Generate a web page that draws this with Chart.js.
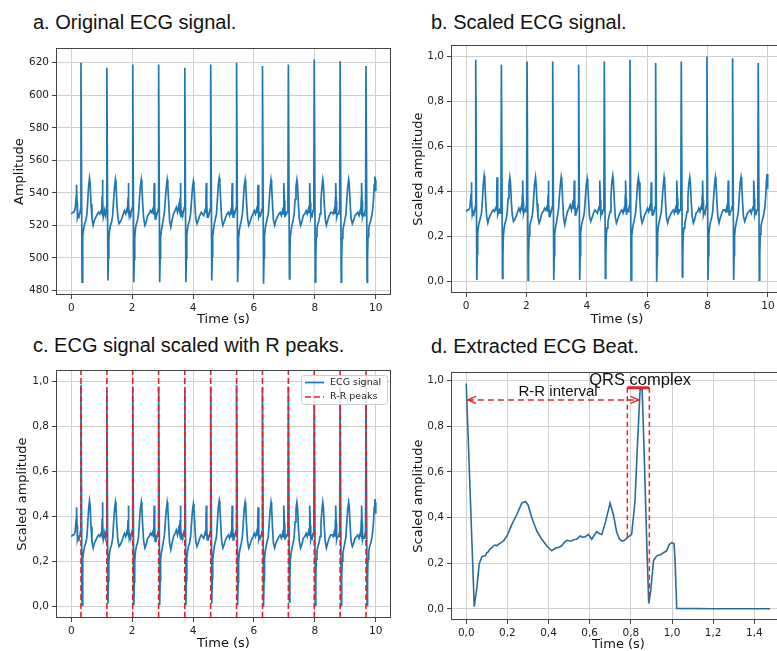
<!DOCTYPE html>
<html>
<head>
<meta charset="utf-8">
<title>ECG signal figure</title>
<script src="https://cdn.jsdelivr.net/npm/chart.js@4.4.1/dist/chart.umd.min.js"></script>
<style>
    html, body { margin: 0; padding: 0; background: #fff; }
    body { width: 777px; height: 651px; overflow: hidden; position: relative; }
    canvas { position: absolute; }
    .panel-title {
        position: absolute;
        font-family: 'Liberation Sans', Arial, sans-serif;
        font-size: 20px;
        line-height: 1;
        color: #111;
        white-space: nowrap;
    }
</style>
</head>
<body>
<div class="panel-title" style="left:33px;top:12px">a. Original ECG signal.</div>
<div class="panel-title" style="left:431px;top:12px">b. Scaled ECG signal.</div>
<div class="panel-title" style="left:33px;top:335px">c. ECG signal scaled with R peaks.</div>
<div class="panel-title" style="left:431px;top:336px">d. Extracted ECG Beat.</div>

<canvas id="chartA"></canvas>
<canvas id="chartB"></canvas>
<canvas id="chartC"></canvas>
<canvas id="chartD"></canvas>

<script>
// ---- data ----

// tick labels
const timeTicks = [0, 2, 4, 6, 8, 10];
const amplitudeTicks = [480, 500, 520, 540, 560, 580, 600, 620];
const scaledTicks = [0, 0.2, 0.4, 0.6, 0.8, 1.0];
const beatTimeTicks = [0, 0.2, 0.4, 0.6, 0.8, 1.0, 1.2, 1.4];

// axis limits
const timeRange = [-0.5, 10.5];
const amplitudeRange = [477.1, 628.9];
const scaledRange = [-0.05, 1.05];
const beatTimeRange = [-0.074, 1.554];
const beatAmpRange = [-0.049, 1.036];

// original ECG, [time (s), amplitude]
const ecgSamples = [
    [0, 527], [0.02, 527], [0.05, 528], [0.08, 528], [0.11, 529], [0.13, 530],
    // beat 1
    [0.15, 530], [0.165, 538], [0.175, 545], [0.19, 534], [0.205, 525], [0.23, 527], [0.255, 526], [0.28, 527], [0.305, 530], [0.32, 620],
    [0.355, 485], [0.37, 501], [0.385, 514], [0.41, 518], [0.44, 521], [0.475, 523], [0.51, 526], [0.54, 534], [0.57, 544], [0.60, 549],
    [0.62, 546], [0.65, 533], [0.68, 524], [0.72, 520], [0.76, 523], [0.81, 525], [0.86, 527], [0.90, 528], [0.94, 527], [0.98, 529],
    // beat 2
    [1.00, 528], [1.015, 538], [1.025, 548], [1.04, 535], [1.055, 525], [1.08, 527], [1.105, 528], [1.13, 526], [1.155, 531], [1.17, 617],
    [1.205, 486], [1.22, 500], [1.235, 512], [1.26, 517], [1.29, 520], [1.325, 522], [1.36, 526], [1.39, 535], [1.42, 543], [1.45, 548],
    [1.47, 545], [1.50, 533], [1.53, 525], [1.57, 521], [1.61, 522], [1.66, 524], [1.71, 527], [1.75, 529], [1.79, 527], [1.83, 530],
    // beat 3
    [1.85, 529], [1.865, 537], [1.875, 546], [1.89, 533], [1.905, 526], [1.93, 528], [1.955, 527], [1.98, 529], [2.005, 531], [2.02, 619],
    [2.055, 485], [2.07, 499], [2.085, 512], [2.11, 518], [2.14, 521], [2.175, 523], [2.21, 527], [2.24, 536], [2.27, 544], [2.30, 548],
    [2.32, 544], [2.35, 532], [2.38, 524], [2.42, 520], [2.46, 522], [2.51, 526], [2.56, 527], [2.60, 529], [2.64, 528], [2.68, 530],
    // beat 4
    [2.70, 527], [2.715, 537], [2.725, 546], [2.74, 534], [2.755, 524], [2.78, 527], [2.805, 526], [2.83, 528], [2.855, 530], [2.87, 619],
    [2.905, 485], [2.92, 500], [2.935, 513], [2.96, 517], [2.99, 520], [3.025, 524], [3.06, 528], [3.09, 536], [3.12, 543], [3.15, 548],
    [3.17, 545], [3.20, 534], [3.23, 523], [3.27, 519], [3.31, 523], [3.36, 527], [3.41, 529], [3.45, 531], [3.49, 528], [3.53, 532],
    // beat 5
    [3.56, 529], [3.575, 537], [3.585, 546], [3.60, 535], [3.615, 525], [3.64, 528], [3.665, 527], [3.69, 529], [3.715, 531], [3.73, 617],
    [3.765, 485], [3.78, 500], [3.795, 514], [3.82, 518], [3.85, 521], [3.885, 523], [3.92, 527], [3.95, 535], [3.98, 543], [4.01, 547],
    [4.03, 544], [4.06, 533], [4.09, 524], [4.13, 521], [4.17, 523], [4.22, 526], [4.27, 528], [4.31, 527], [4.35, 526], [4.39, 529],
    // beat 6
    [4.41, 528], [4.425, 537], [4.435, 546], [4.45, 534], [4.465, 525], [4.49, 527], [4.515, 526], [4.54, 528], [4.565, 530], [4.58, 619],
    [4.615, 486], [4.63, 501], [4.645, 513], [4.67, 517], [4.70, 521], [4.735, 524], [4.77, 527], [4.80, 536], [4.83, 545], [4.86, 549],
    [4.88, 546], [4.91, 534], [4.94, 524], [4.98, 520], [5.02, 522], [5.07, 525], [5.12, 527], [5.16, 528], [5.20, 526], [5.24, 529],
    // beat 7
    [5.26, 527], [5.275, 537], [5.285, 546], [5.30, 535], [5.315, 525], [5.34, 528], [5.365, 527], [5.39, 529], [5.415, 531], [5.43, 620],
    [5.465, 485], [5.48, 499], [5.495, 512], [5.52, 517], [5.55, 520], [5.585, 523], [5.62, 527], [5.65, 535], [5.68, 544], [5.71, 548],
    [5.73, 545], [5.76, 533], [5.79, 524], [5.83, 520], [5.87, 522], [5.92, 525], [5.97, 527], [6.01, 529], [6.05, 527], [6.09, 530],
    // beat 8
    [6.11, 528], [6.125, 537], [6.135, 545], [6.15, 534], [6.165, 525], [6.19, 527], [6.215, 526], [6.24, 528], [6.265, 530], [6.28, 618],
    [6.315, 484], [6.33, 500], [6.345, 513], [6.37, 518], [6.40, 521], [6.435, 524], [6.47, 527], [6.50, 535], [6.53, 543], [6.56, 548],
    [6.58, 545], [6.61, 532], [6.64, 523], [6.68, 520], [6.72, 523], [6.77, 525], [6.82, 527], [6.86, 528], [6.90, 526], [6.94, 529],
    // beat 9
    [6.96, 527], [6.975, 537], [6.985, 546], [7.00, 535], [7.015, 525], [7.04, 528], [7.065, 527], [7.09, 528], [7.115, 531], [7.13, 619],
    [7.165, 487], [7.18, 501], [7.195, 513], [7.22, 517], [7.25, 520], [7.285, 523], [7.32, 527], [7.35, 536], [7.38, 544], [7.41, 548],
    [7.43, 545], [7.46, 533], [7.49, 524], [7.53, 520], [7.57, 522], [7.62, 526], [7.67, 527], [7.71, 529], [7.75, 527], [7.79, 530],
    // beat 10
    [7.81, 528], [7.825, 537], [7.835, 546], [7.85, 534], [7.865, 525], [7.89, 527], [7.915, 526], [7.94, 529], [7.965, 531], [7.98, 622],
    [8.015, 485], [8.03, 500], [8.045, 513], [8.07, 518], [8.10, 521], [8.135, 523], [8.17, 527], [8.20, 535], [8.23, 543], [8.26, 548],
    [8.28, 545], [8.31, 533], [8.34, 524], [8.38, 520], [8.42, 523], [8.47, 526], [8.52, 528], [8.56, 528], [8.60, 527], [8.64, 530],
    // beat 11
    [8.66, 527], [8.675, 537], [8.685, 546], [8.70, 535], [8.715, 525], [8.74, 527], [8.765, 527], [8.79, 528], [8.815, 530], [8.83, 621],
    [8.865, 485], [8.88, 500], [8.895, 512], [8.92, 517], [8.95, 520], [8.985, 523], [9.02, 527], [9.05, 536], [9.08, 544], [9.11, 548],
    [9.13, 545], [9.16, 533], [9.19, 524], [9.23, 521], [9.27, 523], [9.32, 526], [9.37, 527], [9.41, 528], [9.45, 526], [9.49, 529],
    // beat 12
    [9.51, 528], [9.525, 537], [9.535, 546], [9.55, 535], [9.565, 525], [9.59, 527], [9.615, 526], [9.64, 528], [9.665, 530], [9.68, 618],
    [9.715, 485], [9.73, 500], [9.745, 513], [9.77, 518], [9.80, 521], [9.835, 523], [9.87, 526], [9.90, 530], [9.93, 537], [9.95, 545],
    [9.97, 550], [9.985, 548], [10.0, 541]
];

// detected R peaks (s)
const rPeakTimes = [0.32, 1.17, 2.02, 2.87, 3.73, 4.58, 5.43, 6.28, 7.13, 7.98, 8.83, 9.68];

// one extracted beat, [time (s), scaled amplitude]
const beatSamples = [
    [0, 0.987], [0.039, 0.009], [0.052, 0.095], [0.063, 0.196], [0.076, 0.228], [0.092, 0.232], [0.1, 0.245], [0.108, 0.25],
    [0.115, 0.262], [0.125, 0.268], [0.133, 0.276], [0.141, 0.279], [0.149, 0.276], [0.157, 0.283], [0.17, 0.29], [0.181, 0.297],
    [0.198, 0.319], [0.222, 0.37], [0.246, 0.413], [0.27, 0.463], [0.287, 0.47], [0.3, 0.456], [0.319, 0.398], [0.343, 0.341],
    [0.367, 0.305], [0.391, 0.276], [0.415, 0.254], [0.428, 0.262], [0.44, 0.268], [0.452, 0.27], [0.464, 0.276], [0.476, 0.29],
    [0.489, 0.3], [0.5, 0.298], [0.513, 0.297], [0.525, 0.304], [0.537, 0.305], [0.554, 0.319], [0.566, 0.314], [0.578, 0.315],
    [0.594, 0.326], [0.61, 0.305], [0.622, 0.322], [0.634, 0.338], [0.646, 0.33], [0.659, 0.326], [0.678, 0.384], [0.699, 0.463],
    [0.715, 0.413], [0.731, 0.336], [0.745, 0.305], [0.756, 0.297], [0.77, 0.3], [0.783, 0.312], [0.804, 0.326], [0.82, 0.47],
    [0.832, 0.716], [0.845, 0.961], [0.855, 0.961], [0.866, 0.644], [0.878, 0.268], [0.887, 0.023], [0.897, 0.081], [0.91, 0.211],
    [0.926, 0.232], [0.94, 0.236], [0.95, 0.24], [0.962, 0.248], [0.974, 0.254], [0.987, 0.283], [0.999, 0.29], [1.01, 0.285],
    [1.015, 0.21], [1.023, 0.002], [1.2, 0.0], [1.476, 0.0]
];

// annotations of panel d (data units)
const rrArrowEnds = [0.008, 0.838];
const rrArrowLevel = 0.915;
const rrLabel = { text: 'R-R interval', x: 0.254, y: 0.934 };
const qrsEdges = [0.783, 0.89];
const qrsBarLevel = 0.968;
const qrsEdgeBottoms = [0.31, 0.04];
const qrsLabel = { text: 'QRS complex', x: 0.598, y: 0.98 };

// ---- styles ----
const lineBlue = '#1f77b4';
const beatBlue = '#2a6c99';
const red = '#e02328';
const tickFont = { family: 'DejaVu Sans', size: 10.5 };
const axisTitleFont = { family: 'DejaVu Sans', size: 13 };

// draws the full box round the plot area, like matplotlib spines
const framePlugin = {
    id: 'frame',
    afterDatasetsDraw(chart) {
        const { ctx, chartArea: a } = chart;
        ctx.save();
        ctx.strokeStyle = '#444';
        ctx.lineWidth = 1;
        ctx.strokeRect(Math.round(a.left) + 0.5, Math.round(a.top) + 0.5,
            Math.round(a.right - a.left) - 1, Math.round(a.bottom - a.top) - 1);
        ctx.restore();
    }
};

// legend drawn inside the plot area (panel c)
const innerLegendPlugin = {
    id: 'innerLegend',
    afterDraw(chart) {
        const { ctx, chartArea: a } = chart;
        const w = 86, h = 29;
        const x = Math.round(a.right) - 4 - w;
        const y = Math.round(a.top) + 5;
        ctx.save();
        ctx.beginPath();
        ctx.roundRect(x + 0.5, y + 0.5, w, h, 3);
        ctx.fillStyle = 'rgba(255,255,255,0.85)';
        ctx.fill();
        ctx.strokeStyle = '#cccccc';
        ctx.lineWidth = 1;
        ctx.stroke();
        ctx.font = '9.5px "DejaVu Sans"';
        ctx.textBaseline = 'middle';
        ctx.textAlign = 'left';
        chart.data.datasets.forEach((ds, i) => {
            const rowY = y + 7.5 + i * 14.5;
            ctx.beginPath();
            ctx.setLineDash(ds.borderDash || []);
            ctx.strokeStyle = ds.borderColor;
            ctx.lineWidth = ds.borderWidth;
            ctx.moveTo(x + 4, rowY);
            ctx.lineTo(x + 23, rowY);
            ctx.stroke();
            ctx.setLineDash([]);
            ctx.fillStyle = '#222';
            ctx.fillText(ds.label, x + 29, rowY);
        });
        ctx.restore();
    }
};

// arrow heads and labels of panel d
const beatNotesPlugin = {
    id: 'beatNotes',
    afterDatasetsDraw(chart) {
        const { ctx } = chart;
        const xs = chart.scales.x, ys = chart.scales.y;
        const y = ys.getPixelForValue(rrArrowLevel);
        const xl = xs.getPixelForValue(rrArrowEnds[0]);
        const xr = xs.getPixelForValue(rrArrowEnds[1]);
        ctx.save();
        ctx.strokeStyle = red;
        ctx.lineWidth = 1.5;
        ctx.setLineDash([]);
        ctx.beginPath();
        ctx.moveTo(xl + 8, y - 3.5); ctx.lineTo(xl, y); ctx.lineTo(xl + 8, y + 3.5);
        ctx.moveTo(xr - 8, y - 3.5); ctx.lineTo(xr, y); ctx.lineTo(xr - 8, y + 3.5);
        ctx.stroke();

        ctx.fillStyle = '#111';
        ctx.textAlign = 'left';
        ctx.textBaseline = 'alphabetic';
        ctx.font = '15px "Liberation Sans", Arial, sans-serif';
        ctx.fillText(rrLabel.text, xs.getPixelForValue(rrLabel.x), ys.getPixelForValue(rrLabel.y));
        ctx.font = '16.5px "Liberation Sans", Arial, sans-serif';
        ctx.fillText(qrsLabel.text, xs.getPixelForValue(qrsLabel.x), ys.getPixelForValue(qrsLabel.y));
        ctx.restore();
    }
};

// one axis: fixed ticks, fixed thickness
const makeAxis = (range, tickValues, label, format, thickness, horizontal) => ({
    type: 'linear',
    min: range[0],
    max: range[1],
    afterBuildTicks: (scale) => { scale.ticks = tickValues.map(v => ({ value: v })); },
    afterFit: (scale) => {
        if (horizontal) { scale.height = thickness; } else { scale.width = thickness; }
    },
    ticks: { font: tickFont, color: '#222', padding: 3, maxRotation: 0, autoSkip: false, callback: format },
    grid: { color: '#cfcfcf', lineWidth: 1, drawTicks: true, tickLength: 4, tickColor: '#444', tickWidth: 1 },
    border: { display: false },
    title: { display: true, text: label, font: axisTitleFont, color: '#111', padding: { top: 4, bottom: 4 } }
});

const plainLabel = (v) => String(v);
const commaLabel = (v) => v.toFixed(1).replace('.', ',');

// build a chart; box is the plot area in page pixels
const makeChart = (id, box, yTitleX, xTitleY, datasets, xAxis, yAxis, plugins) => {
    const canvas = document.getElementById(id);
    const left = yTitleX - 12;
    const top = box.top - 6;
    const width = box.right + 6 - left;
    const height = xTitleY + 12 - top;
    canvas.style.left = left + 'px';
    canvas.style.top = top + 'px';
    canvas.width = width;
    canvas.height = height;
    canvas.style.width = width + 'px';
    canvas.style.height = height + 'px';

    new Chart(canvas, {
        type: 'scatter',
        data: { datasets: datasets },
        options: {
            responsive: false,
            animation: false,
            devicePixelRatio: 1,
            events: [],
            layout: { autoPadding: false, padding: { left: 0, top: 6, right: 6, bottom: 0 } },
            plugins: { legend: { display: false }, tooltip: { enabled: false } },
            scales: {
                x: makeAxis(xAxis.range, xAxis.ticks, 'Time (s)', xAxis.format, height - (box.bottom - top), true),
                y: makeAxis(yAxis.range, yAxis.ticks, yAxis.label, yAxis.format, box.left - left, false)
            }
        },
        plugins: [framePlugin].concat(plugins || [])
    });
}; // end makeChart

const signalLine = (label, points, color, width) => ({
    label: label,
    data: points,
    showLine: true,
    borderColor: color,
    backgroundColor: color,
    borderWidth: width,
    pointRadius: 0,
    tension: 0,
    spanGaps: false
});

const init = () => {
    // min-max scaling of the original record
    const amps = ecgSamples.map(p => p[1]);
    const lo = Math.min(...amps);
    const hi = Math.max(...amps);
    const rawPoints = ecgSamples.map(p => ({ x: p[0], y: p[1] }));
    const scaledPoints = ecgSamples.map(p => ({ x: p[0], y: (p[1] - lo) / (hi - lo) }));

    const timeAxis = { range: timeRange, ticks: timeTicks, format: plainLabel };
    const scaledAxis = { range: scaledRange, ticks: scaledTicks, label: 'Scaled amplitude', format: commaLabel };

    // a. original signal
    makeChart('chartA', { left: 56, top: 45, right: 391, bottom: 295 }, 20, 319,
        [signalLine('ECG signal', rawPoints, lineBlue, 1.7)],
        timeAxis,
        { range: amplitudeRange, ticks: amplitudeTicks, label: 'Amplitude', format: plainLabel });

    // b. scaled signal
    makeChart('chartB', { left: 451, top: 42, right: 783, bottom: 293 }, 419, 319,
        [signalLine('ECG signal', scaledPoints, lineBlue, 1.7)],
        timeAxis, scaledAxis);

    // c. scaled signal with R peaks
    const peakLines = [];
    rPeakTimes.forEach(t => {
        peakLines.push({ x: t, y: scaledRange[0] }, { x: t, y: scaledRange[1] }, { x: t, y: null });
    });
    const ecgSet = signalLine('ECG signal', scaledPoints, lineBlue, 1.7);
    ecgSet.order = 2;
    const peakSet = signalLine('R-R peaks', peakLines, red, 1.6);
    peakSet.borderDash = [6, 3];
    peakSet.order = 1;
    makeChart('chartC', { left: 56, top: 367, right: 391, bottom: 618 }, 23, 643,
        [ecgSet, peakSet], timeAxis, scaledAxis, [innerLegendPlugin]);

    // d. extracted beat with annotations
    const beatSet = signalLine('beat', beatSamples.map(p => ({ x: p[0], y: p[1] })), beatBlue, 1.6);
    beatSet.order = 3;
    const rrSet = signalLine('rr', [{ x: rrArrowEnds[0], y: rrArrowLevel }, { x: rrArrowEnds[1], y: rrArrowLevel }], red, 1.5);
    rrSet.borderDash = [6, 4];
    rrSet.order = 1;
    const qrsSides = signalLine('qrs sides', [
        { x: qrsEdges[0], y: qrsBarLevel }, { x: qrsEdges[0], y: qrsEdgeBottoms[0] }, { x: qrsEdges[0], y: null },
        { x: qrsEdges[1], y: qrsBarLevel }, { x: qrsEdges[1], y: qrsEdgeBottoms[1] }
    ], red, 1.5);
    qrsSides.borderDash = [5, 3.5];
    qrsSides.order = 1;
    const qrsBar = signalLine('qrs', [{ x: qrsEdges[0], y: qrsBarLevel }, { x: qrsEdges[1], y: qrsBarLevel }], red, 3);
    qrsBar.order = 0;
    makeChart('chartD', { left: 451, top: 369, right: 786, bottom: 620 }, 419, 644,
        [beatSet, rrSet, qrsSides, qrsBar],
        { range: beatTimeRange, ticks: beatTimeTicks, format: commaLabel },
        { range: beatAmpRange, ticks: scaledTicks, label: 'Scaled amplitude', format: commaLabel },
        [beatNotesPlugin]);
};

if (window.addEventListener) {
    window.addEventListener("load", init, false);
}
</script>
</body>
</html>
